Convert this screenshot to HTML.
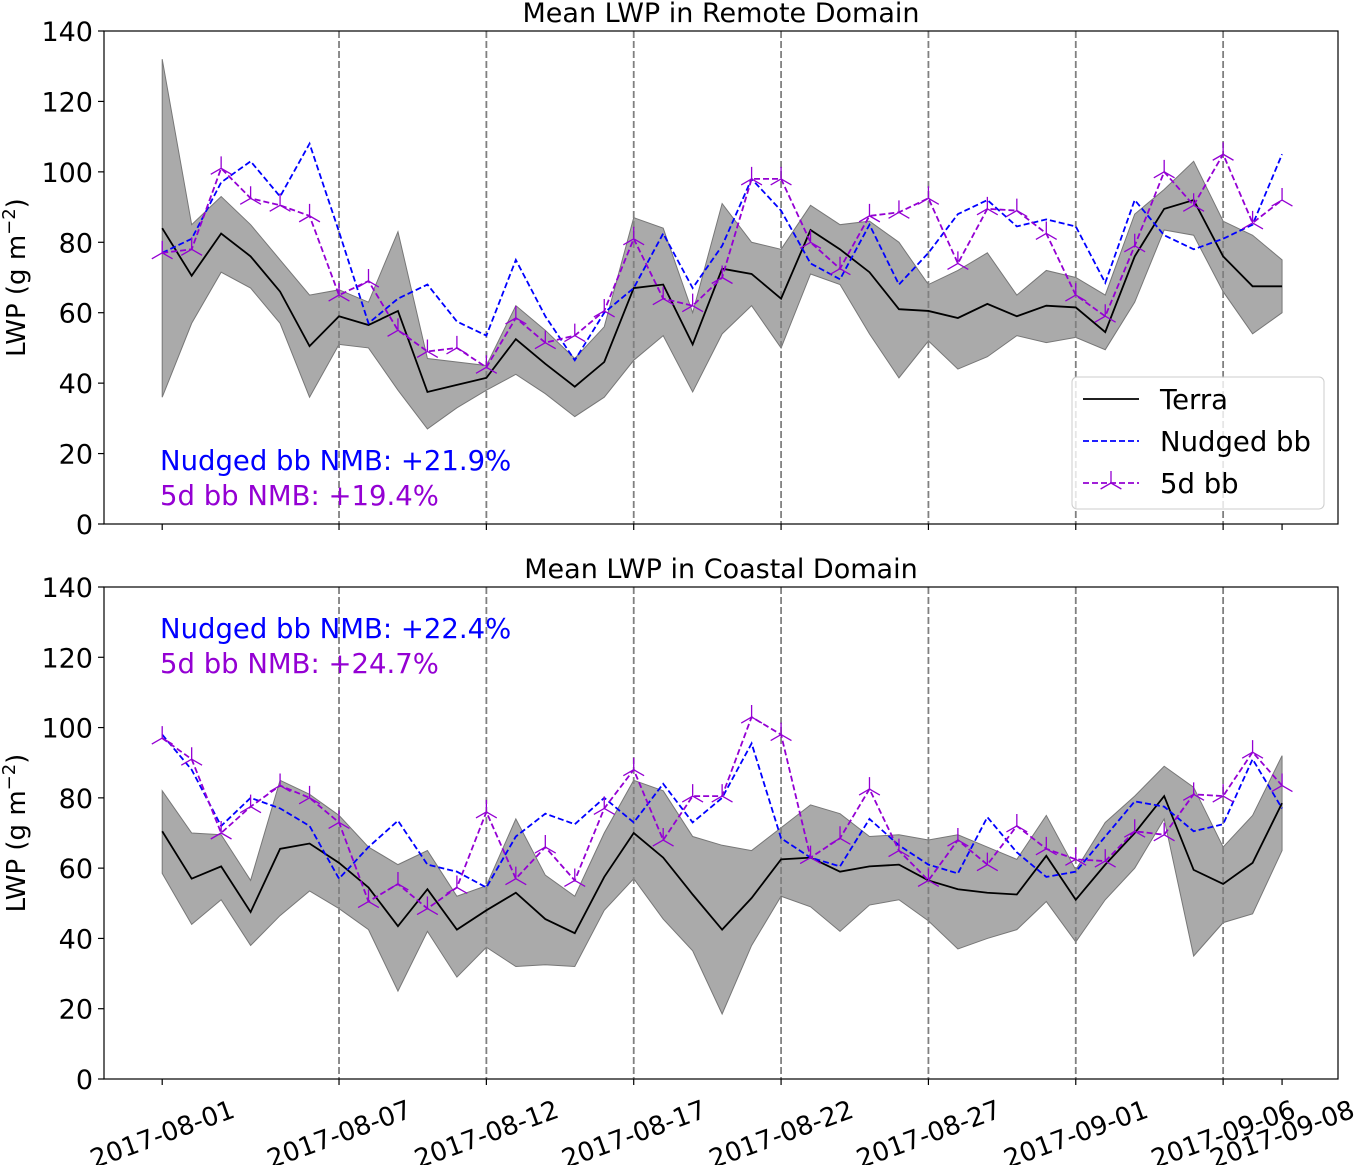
<!DOCTYPE html>
<html><head><meta charset="utf-8">
<style>
html,body{margin:0;padding:0;background:#fff;}
svg{display:block;font-family:"DejaVu Sans","Liberation Sans",sans-serif;}
</style></head>
<body>
<svg id="chart" width="1358" height="1165" viewBox="0 0 1358 1165" xmlns="http://www.w3.org/2000/svg"></svg>
<script>
const dates = ["2017-08-01","2017-08-07","2017-08-12","2017-08-17","2017-08-22","2017-08-27","2017-09-01","2017-09-06","2017-09-08"];
const dateDays = [0,6,11,16,21,26,31,36,38];
const vlineDays = [6,11,16,21,26,31,36];
const yTicks = [0,20,40,60,80,100,120,140];

const remoteTerra = [84,70.5,82.5,76,66,50.5,59,56.5,60.5,37.5,39.5,41.5,52.5,45.5,39,46,67,68,51,72.5,71,64,83.5,78,71.5,61,60.5,58.5,62.5,59,62,61.5,54.5,76,89.5,92,76,67.5,67.5];
const remoteUpper = [132,85,93,85,75,65,66.5,63,83,47,46,45,62,55,47,56,87,84,60,91,80,78,90.5,85,86,80,68,72,77,65,72,70,65,88,95,103,86,82,75];
const remoteLower = [36,57,71.5,67,57,36,51,50,38,27,33,38,42.5,37,30.5,36,46.5,53.5,37.5,54,62,50,71,68,54,41.5,52,44,47.5,53.5,51.5,53,49.5,63,83.5,82,66,54,60];
const remoteNudged = [77,81,97,103,93,108,83,57,64,68,57.5,53.5,75,59,46.5,60,67,82.5,67,79,98,89,74,69.5,85,68,77,88,92,84.5,86.5,84.5,68.5,92,82,78,81,85,105];
const remote5d = [77,78,101,92.5,90.5,87.5,65,69,55,49,50,44.5,58.5,51.5,53.5,60.5,81,64,62,70,98,98,80,72.5,87.5,88.5,92.5,74,89.5,89,82.5,65,59,79,100,90.5,105,85.5,92];

const coastTerra = [70.5,57,60.5,47.5,65.5,67,61.5,54.5,43.5,54,42.5,48,53,45.5,41.5,57.5,70,63,52.5,42.5,51.5,62.5,63,59,60.5,61,56.5,54,53,52.5,63.5,51,61,70,80.5,59.5,55.5,61.5,78.5];
const coastUpper = [82,70,69.5,56.5,85,81,75,66,61,65,52,55,74,58,52,70,85,82,69,66.5,65,71.5,78,75.5,69,69.5,68,69.5,66,62.5,75,59.5,73,80.5,89,83,66,75,92];
const coastLower = [58.5,44,51,38,46.5,53.5,48.5,42.5,25,42,29,37.5,32,32.5,32,48,57,45.5,36.5,18.5,38,52,49,42,49.5,51,45,37,40,42.5,50.5,39,51,60,74,35,44.5,47,65];
const coastNudged = [98,88,72,80,77,72,57,66,73.5,61,59,54.5,69,75.5,72.5,80,73,84,73,80,95.5,68.5,63,60.5,74,66.5,61,58.5,74.5,64.5,57.5,59,69,79,77.5,70.5,72.5,91,77];
const coast5d = [97,91,70,77.5,83.5,80,73,50.5,55.5,48.5,54.5,76,57,66,56.5,77,88,68,80.5,80.5,103,98,63,68.5,82.5,65,56.5,68,61,72,65.5,62.5,62,70.5,69.5,81,80.5,93,83.5];

const NS="http://www.w3.org/2000/svg";
const svg=document.getElementById('chart');
function mk(tag,attrs,parent){const e=document.createElementNS(NS,tag);for(const k in attrs)e.setAttribute(k,attrs[k]);(parent||svg).appendChild(e);return e;}
const X0=104,X1=1338;
function xs(d){return 162.2+29.47*d;}

function panel(top,bottom,title,terra,up,lo,nud,fd,nmbN,nmb5,textY,legend,showX,pname){
  const g=mk('g',{});
  
  
  const ys=v=>bottom-(v/140)*(bottom-top);
  let pts=up.map((v,i)=>xs(i)+','+ys(v)).concat(lo.map((v,i)=>xs(i)+','+ys(v)).reverse());
  const band=mk('polygon',{points:pts.join(' '),fill:'#aaaaaa',stroke:'#777','stroke-width':1},g);
  
  
  vlineDays.forEach(d=>{const l=mk('line',{x1:xs(d),x2:xs(d),y1:top,y2:bottom,stroke:'#808080','stroke-width':1.8,'stroke-dasharray':'7,3'},g);
    
    });
  const line=(arr,col,dash,name)=>{const p=mk('polyline',{points:arr.map((v,i)=>xs(i)+','+ys(v)).join(' '),fill:'none',stroke:col,'stroke-width':1.8,'stroke-dasharray':dash||''},g);
    
    };
  line(terra,'#000','', 'terra-line');
  line(nud,'#0000ff','6,3','nudged-bb-line');
  line(fd,'#9400d3','6,3','5d-bb-line');
  fd.forEach((v,i)=>{const cx=xs(i),cy=ys(v),r=12;
    const m=mk('path',{d:`M${cx},${cy}L${cx},${cy-r}M${cx},${cy}L${cx-r*0.866},${cy+r*0.5}M${cx},${cy}L${cx+r*0.866},${cy+r*0.5}`,stroke:'#9400d3','stroke-width':1.3,fill:'none'},g);
    
    });
  mk('rect',{x:X0,y:top,width:X1-X0,height:bottom-top,fill:'none',stroke:'#000','stroke-width':1.2},g);
  yTicks.forEach(t=>{const y=ys(t);mk('line',{x1:X0-6,x2:X0,y1:y,y2:y,stroke:'#000','stroke-width':1.2},g);
    const tx=mk('text',{x:X0-11,y:y+10,'text-anchor':'end','font-size':27},g);tx.textContent=t;
    
    });
  dateDays.forEach((d,i)=>{mk('line',{x1:xs(d),x2:xs(d),y1:bottom,y2:bottom+6,stroke:'#000','stroke-width':1.2},g);
    if(showX){const ax=xs(d), ay=bottom+55;
      const tx=mk('text',{x:ax,y:ay,'text-anchor':'middle','font-size':26,transform:`rotate(-20 ${ax} ${ay})`,dy:'0.35em'},g);tx.textContent=dates[i];
      
      }});
  const t=mk('text',{x:(X0+X1)/2,y:top-9,'text-anchor':'middle','font-size':27},g);t.textContent=title;
  
  
  const yl=mk('text',{x:0,y:0,'text-anchor':'middle','font-size':26,transform:`translate(25 ${(top+bottom)/2}) rotate(-90)`},g);
  yl.innerHTML='LWP (g m<tspan dy="-10" font-size="18">−2</tspan><tspan dy="10">)</tspan>';
  
  
  const a=mk('text',{x:160,y:textY,'font-size':27.5,fill:'#0000ff'},g);a.textContent='Nudged bb NMB: '+nmbN;
  
  
  const b=mk('text',{x:160,y:textY+35,'font-size':27.5,fill:'#9400d3'},g);b.textContent='5d bb NMB: '+nmb5;
  
  
  if(legend){
    const lg=mk('g',{},g);
    
    
    mk('rect',{x:1072,y:377,width:252,height:132,rx:5,fill:'#fff','fill-opacity':0.8,stroke:'#ccc'},lg);
    const items=[['Terra','#000',''],['Nudged bb','#0000ff','6,3'],['5d bb','#9400d3','6,3']];
    items.forEach((it,i)=>{const y=399+i*42;
      mk('line',{x1:1083,x2:1139,y1:y,y2:y,stroke:it[1],'stroke-width':1.8,'stroke-dasharray':it[2]},lg);
      if(i==2){const cx=1111,r=12;mk('path',{d:`M${cx},${y}L${cx},${y-r}M${cx},${y}L${cx-r*0.866},${y+r*0.5}M${cx},${y}L${cx+r*0.866},${y+r*0.5}`,stroke:it[1],'stroke-width':1.3},lg);}
      const tx=mk('text',{x:1160,y:y+10,'font-size':27.5},lg);tx.textContent=it[0];
      
      });
  }
}
panel(31,524,'Mean LWP in Remote Domain',remoteTerra,remoteUpper,remoteLower,remoteNudged,remote5d,'+21.9%','+19.4%',470,true,false,'remote-panel');
panel(587,1079,'Mean LWP in Coastal Domain',coastTerra,coastUpper,coastLower,coastNudged,coast5d,'+22.4%','+24.7%',638,false,true,'coastal-panel');
</script>
</body></html>
